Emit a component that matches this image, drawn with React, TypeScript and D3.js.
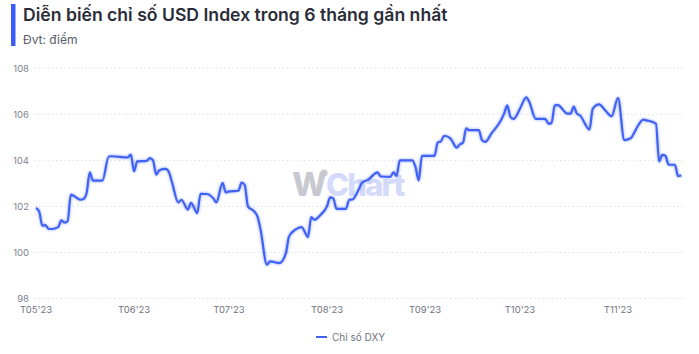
import React from "react";
import * as d3 from "d3";

const title = "Diễn biến chỉ số USD Index trong 6 tháng gần nhất";
const subtitle = "Đvt: điểm";
const seriesName = "Chỉ số DXY";

const dates: string[] = [
  "2023-05-01","2023-05-02","2023-05-03","2023-05-04","2023-05-05","2023-05-06","2023-05-08","2023-05-09","2023-05-10","2023-05-11","2023-05-12","2023-05-13","2023-05-15","2023-05-16","2023-05-17","2023-05-18","2023-05-19","2023-05-22","2023-05-24","2023-05-25","2023-05-30","2023-05-31",
  "2023-06-01","2023-06-02","2023-06-05","2023-06-06","2023-06-07","2023-06-08","2023-06-09","2023-06-11","2023-06-12","2023-06-13","2023-06-15","2023-06-16","2023-06-18","2023-06-19","2023-06-21","2023-06-22","2023-06-24","2023-06-26","2023-06-27","2023-06-29","2023-06-30",
  "2023-07-01","2023-07-04","2023-07-05","2023-07-06","2023-07-07","2023-07-09","2023-07-10","2023-07-11","2023-07-13","2023-07-14","2023-07-17","2023-07-19","2023-07-20","2023-07-22","2023-07-24","2023-07-26","2023-07-27","2023-07-28","2023-07-30",
  "2023-08-01","2023-08-02","2023-08-03","2023-08-04","2023-08-07","2023-08-08","2023-08-09","2023-08-11","2023-08-12","2023-08-14","2023-08-17","2023-08-18","2023-08-21","2023-08-22","2023-08-23","2023-08-24","2023-08-28","2023-08-29","2023-08-30","2023-08-31",
  "2023-09-04","2023-09-05","2023-09-06","2023-09-07","2023-09-09","2023-09-11","2023-09-12","2023-09-13","2023-09-14","2023-09-15","2023-09-18","2023-09-19","2023-09-20","2023-09-22","2023-09-25","2023-09-26","2023-09-27","2023-09-28","2023-09-29",
  "2023-10-01","2023-10-03","2023-10-04","2023-10-06","2023-10-09","2023-10-10","2023-10-11","2023-10-12","2023-10-13","2023-10-16","2023-10-17","2023-10-18","2023-10-19","2023-10-20","2023-10-23","2023-10-24","2023-10-26","2023-10-28","2023-10-30",
  "2023-11-01","2023-11-03","2023-11-05","2023-11-06","2023-11-07","2023-11-09","2023-11-10","2023-11-13","2023-11-14","2023-11-15","2023-11-16","2023-11-17","2023-11-19","2023-11-20","2023-11-21"
];

const values: number[] = [
  101.93,101.78,101.16,101.19,101.02,101.02,101.10,101.39,101.30,101.35,102.51,102.45,102.29,102.32,102.58,103.48,103.12,103.12,104.17,104.18,104.13,104.25,
  103.52,103.96,103.98,104.10,104.00,103.38,103.57,103.63,103.50,103.05,102.17,102.29,101.86,102.15,101.71,102.55,102.54,102.36,102.17,103.02,102.61,
  102.65,102.68,103.04,102.93,102.00,101.78,101.57,100.99,99.47,99.61,99.54,99.97,100.70,100.99,101.10,100.67,101.54,101.42,101.64,
  102.00,102.39,102.35,101.89,101.89,102.29,102.30,102.73,103.02,103.16,103.48,103.30,103.28,103.48,103.33,104.00,104.00,103.70,103.12,104.20,
  104.20,104.78,104.82,105.07,104.96,104.55,104.70,104.77,105.39,105.31,105.31,104.88,104.80,105.17,105.74,106.03,106.39,105.89,105.80,
  106.24,106.74,106.53,105.80,105.80,105.60,105.62,106.39,106.40,106.03,106.03,106.34,106.03,105.95,105.34,106.24,106.43,106.17,105.91,
  106.72,104.88,104.96,105.17,105.43,105.77,105.74,105.60,103.95,104.24,104.20,103.81,103.81,103.31,103.35
];

const yTicks: number[] = [98, 100, 102, 104, 106, 108];
const xTickDates: string[] = ["2023-05-01","2023-06-01","2023-07-01","2023-08-01","2023-09-01","2023-10-01","2023-11-01"];
const xTickLabels: string[] = ["T05'23","T06'23","T07'23","T08'23","T09'23","T10'23","T11'23"];

const W = 699, H = 354;
const parse = d3.timeParse("%Y-%m-%d");

export default function App() {
  const x = d3.scaleTime()
    .domain([parse("2023-05-01") as Date, parse("2023-11-01") as Date])
    .range([36, 618]);
  const y = d3.scaleLinear().domain([98, 108]).range([298.5, 68.3]);
  const data = dates.map((d, i) => ({ date: parse(d) as Date, value: values[i] }));
  const line = d3.line<{ date: Date; value: number }>()
    .x(d => x(d.date))
    .y(d => y(d.value))
    .curve(d3.curveMonotoneX);
  const font = "Inter, 'Noto Sans', sans-serif";
  return (
    <svg width={W} height={H} style={{ position: "absolute", left: 0, top: 0, background: "#fff" }} fontFamily={font}>
      <defs>
        <filter id="glow" x="-5%" y="-20%" width="110%" height="140%">
          <feGaussianBlur in="SourceGraphic" stdDeviation="1.4" result="b" />
          <feComponentTransfer in="b" result="b2">
            <feFuncA type="linear" slope="0.6" />
          </feComponentTransfer>
          <feMerge>
            <feMergeNode in="b2" />
            <feMergeNode in="SourceGraphic" />
          </feMerge>
        </filter>
      </defs>
      <rect x={11} y={4} width={4.5} height={42} fill="#3b5cf6" />
      <text x={23} y={21} fontSize={17.6} fontWeight={600} fill="#2b2d38">{title}</text>
      <text x={23} y={44} fontSize={12} fill="#555a66">{subtitle}</text>

      {yTicks.map(t => (
        <g key={t}>
          <line x1={35} x2={684} y1={y(t)} y2={y(t)} stroke="#d6d8dd" strokeDasharray="1.2 3" strokeWidth={1} />
          <text x={29} y={y(t) + 3.5} fontSize={9.5} textAnchor="end" fill="#7d8290">{t}</text>
        </g>
      ))}
      {xTickDates.map((d, i) => (
        <text key={d} x={x(parse(d) as Date)} y={313} fontSize={9.5} textAnchor="middle" fill="#6f7480">{xTickLabels[i]}</text>
      ))}

      <g>
        <text x={292} y={196} fontSize={33} fontWeight={800} fill="#c8c8d1" letterSpacing={-1}>W</text>
        <circle cx={324} cy={173} r={3.6} fill="#c8c8d1" />
        <text x={326} y={196} fontSize={31} fontWeight={800} fill="#d3dafb" letterSpacing={-1.8}>Chart</text>
      </g>

      <path d={line(data) || ""} fill="none" stroke="#4162f5" strokeWidth={2.2} filter="url(#glow)" />

      <line x1={316} x2={327} y1={337} y2={337} stroke="#4162f5" strokeWidth={2} />
      <text x={332} y={340.5} fontSize={10} fill="#6f7480">{seriesName}</text>
    </svg>
  );
}
